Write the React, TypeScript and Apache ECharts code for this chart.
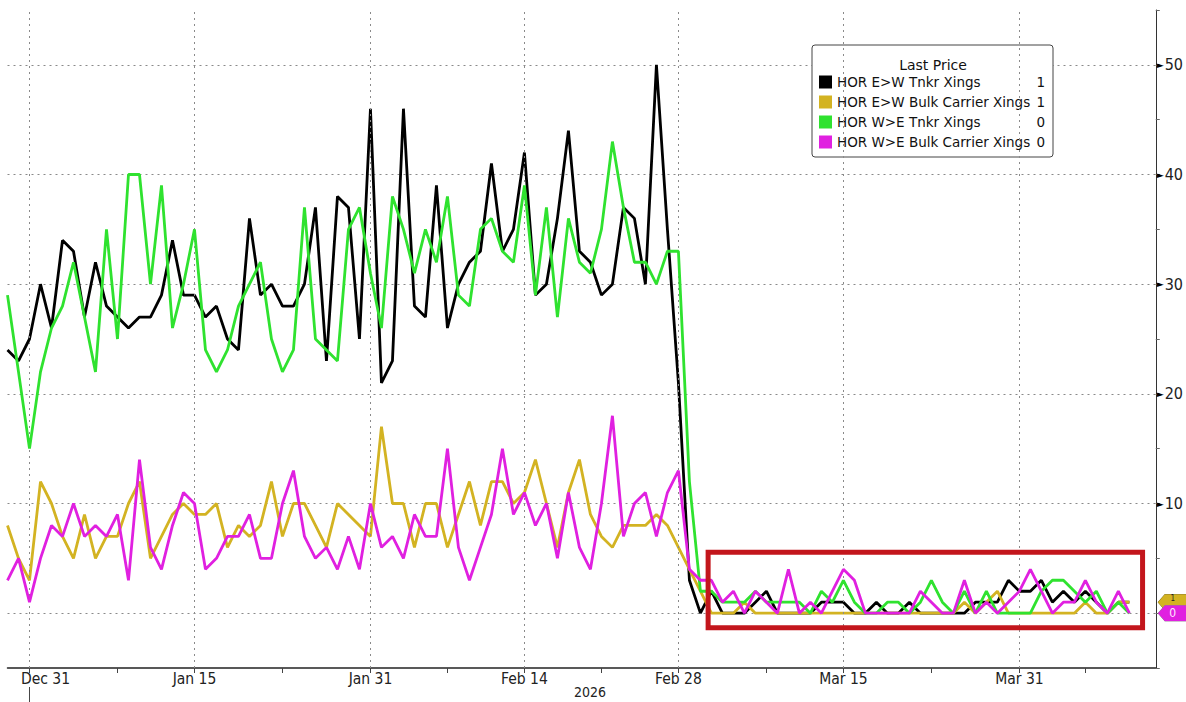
import React, { useEffect, useRef } from 'react';
import * as echarts from 'echarts';

// Daily observations starting 2025-12-29 (x = day offset from this date)
const START_DATE = '2025-12-29';
const SERIES_NAMES = [
  'HOR E>W Tnkr Xings',
  'HOR E>W Bulk Carrier Xings',
  'HOR W>E Tnkr Xings',
  'HOR W>E Bulk Carrier Xings',
];
const SERIES_COLORS = ['#000000', '#d3b322', '#2fe22f', '#e020e0'];

const EW_TNKR = [
  24, 23, 25, 30, 26, 34, 33, 27, 32, 28, 27, 26, 27, 27, 29, 34, 29, 29, 27, 28,
  25, 24, 36, 29, 30, 28, 28, 30, 37, 23, 38, 37, 25, 46, 21, 23, 46, 28, 27, 39,
  26, 30, 32, 33, 41, 33, 35, 42, 29, 30, 36, 44, 33, 32, 29, 30, 37, 36, 30, 50,
  35, 21, 3, 0, 2, 0, 0, 0, 1, 2, 0, 0, 0, 0, 1, 1, 1, 0, 0, 1,
  0, 0, 1, 0, 0, 0, 0, 0, 1, 1, 1, 3, 2, 2, 3, 1, 2, 1, 2, 1,
  0, 1, 1,
];
const EW_BULK = [
  8, 5, 3, 12, 10, 7, 5, 9, 5, 7, 7, 10, 12, 5, 7, 9, 10, 9, 9, 10,
  6, 8, 7, 8, 12, 7, 10, 10, 8, 6, 10, 9, 8, 7, 17, 10, 10, 6, 10, 10,
  6, 9, 12, 8, 12, 12, 10, 11, 14, 10, 6, 11, 14, 9, 7, 6, 8, 8, 8, 9,
  8, 6, 4, 2, 0, 0, 0, 1, 0, 0, 0, 0, 0, 0, 0, 0, 0, 0, 0, 0,
  0, 0, 0, 0, 0, 0, 0, 1, 0, 1, 2, 0, 0, 0, 0, 0, 0, 0, 1, 0,
  0, 1, 1,
];
const WE_TNKR = [
  29, 22, 15, 22, 26, 28, 32, 27, 22, 35, 25, 40, 40, 30, 39, 26, 30, 35, 24, 22,
  24, 28, 30, 32, 25, 22, 24, 37, 25, 24, 23, 35, 37, 31, 26, 38, 35, 31, 35, 32,
  38, 29, 28, 35, 36, 33, 32, 39, 29, 37, 27, 36, 32, 31, 35, 43, 37, 32, 32, 30,
  33, 33, 12, 2, 2, 1, 1, 1, 2, 1, 1, 1, 1, 0, 2, 1, 3, 1, 0, 0,
  1, 1, 0, 1, 3, 1, 0, 2, 0, 2, 0, 0, 0, 0, 2, 3, 3, 2, 1, 2,
  0, 1, 0,
];
const WE_BULK = [
  3, 5, 1, 5, 8, 7, 10, 7, 8, 7, 9, 3, 14, 6, 4, 8, 11, 10, 4, 5,
  7, 7, 9, 5, 5, 10, 13, 7, 5, 6, 4, 7, 4, 10, 6, 7, 5, 9, 7, 7,
  15, 6, 3, 6, 9, 15, 9, 11, 8, 10, 5, 11, 6, 4, 10, 18, 7, 10, 11, 7,
  11, 13, 4, 3, 3, 1, 2, 0, 2, 1, 0, 4, 0, 1, 0, 2, 4, 3, 0, 0,
  0, 0, 0, 2, 1, 0, 0, 3, 0, 1, 0, 1, 2, 4, 2, 0, 1, 1, 3, 1,
  0, 2, 0,
];
const SERIES_VALUES = [EW_TNKR, EW_BULK, WE_TNKR, WE_BULK];
const TAG_TEXT_COLORS = ['#ffffff', '#222222', '#111111', '#ffe8ff'];
// only the tags that stay uncovered in the stack show their number
const TAG_SHOWS_TEXT = [false, true, false, true];

const X_LABEL_DAYS = [2, 17, 33, 47, 61, 76, 92];
const X_LABELS = ['Dec 31', 'Jan 15', 'Jan 31', 'Feb 14', 'Feb 28', 'Mar 15', 'Mar 31'];
const X_MINOR_DAYS = [10, 25, 40, 54, 69, 84, 98];
const X_MAX_DAY = 104.4;
const Y_MIN = -5;
const Y_MAX = 55;
const YEAR_LABEL = '2026';
const YEAR_START_DAY = 2;
const HIGHLIGHT_BOX = { fromDay: 63.7, toDay: 103.2, low: -1.34, high: 5.55 };

const COND_FONT = '"DejaVu Sans Condensed", "Liberation Sans Narrow", "DejaVu Sans", sans-serif';
const LEGEND_FONT = '"DejaVu Sans", "Liberation Sans", sans-serif';

export default function App() {
  const ref = useRef<HTMLDivElement>(null);

  useEffect(() => {
    if (!ref.current) return;
    const chart = echarts.init(ref.current, undefined, { renderer: 'svg' });
    const labelMap: Record<number, string> = {};
    X_LABEL_DAYS.forEach((d, i) => (labelMap[d] = X_LABELS[i]));
    const lastValues = SERIES_VALUES.map((s) => s[s.length - 1]);

    const series: any[] = SERIES_NAMES.map((name, k) => ({
      name,
      type: 'line',
      data: SERIES_VALUES[k].map((v, i) => [i, v]),
      showSymbol: false,
      symbol: 'none',
      lineStyle: { width: 2.8, color: SERIES_COLORS[k] },
      itemStyle: { color: SERIES_COLORS[k] },
      z: 3 + k,
    }));
    series.unshift({
      name: 'grid',
      type: 'line',
      data: [],
      z: 1,
      silent: true,
      markLine: {
        silent: true,
        symbol: 'none',
        label: { show: false },
        lineStyle: { color: '#8a8a8a', width: 1, type: [2, 4] },
        data: X_LABEL_DAYS.map((d) => ({ xAxis: d })),
      },
    });

    chart.setOption({
      animation: false,
      backgroundColor: '#ffffff',
      grid: { left: 7.5, right: 30, top: 10, bottom: 34 },
      xAxis: {
        type: 'value',
        min: 0,
        max: X_MAX_DAY,
        axisLine: { show: true, onZero: false, lineStyle: { color: '#222', width: 1.5 } },
        axisTick: {
          show: true,
          length: 5,
          customValues: [...X_LABEL_DAYS, ...X_MINOR_DAYS].sort((a, b) => a - b),
          lineStyle: { color: '#444' },
        },
        axisLabel: {
          customValues: X_LABEL_DAYS,
          formatter: (v: number) => {
            const d = Math.round(v);
            const t = labelMap[d] || '';
            return d === X_LABEL_DAYS[0] ? `{first|${t}}` : t;
          },
          color: '#222',
          fontSize: 15.5,
          fontFamily: COND_FONT,
          margin: 3,
          rich: {
            first: { fontSize: 15.5, fontFamily: COND_FONT, color: '#222', padding: [0, 0, 0, 32] },
          },
        },
        splitLine: { show: false },
      },
      yAxis: {
        type: 'value',
        position: 'right',
        min: Y_MIN,
        max: Y_MAX,
        interval: 5,
        axisLine: { show: true, onZero: false, lineStyle: { color: '#333', width: 1 } },
        axisTick: { show: true, length: 4, lineStyle: { color: '#666' } },
        axisLabel: {
          margin: 1,
          // the 0 label sits under the last-value tags, as in the source chart
          formatter: (v: number) => (v > 0 && v % 10 === 0 ? `{t|►}{v|${v}}` : ''),
          rich: {
            t: { fontSize: 9, color: '#000', fontFamily: LEGEND_FONT },
            v: { fontSize: 16, color: '#222', fontFamily: COND_FONT, padding: [0, 0, 0, 1] },
          },
        },
        splitLine: {
          show: true,
          lineStyle: { color: ['rgba(0,0,0,0)', '#8a8a8a'], width: 1, type: [2, 4] },
        },
      },
      legend: {
        data: SERIES_NAMES,
        orient: 'vertical',
        left: 812,
        top: 45,
        padding: [30, 8, 8, 7],
        itemWidth: 13,
        itemHeight: 13,
        itemGap: 6,
        icon: 'rect',
        backgroundColor: '#ffffff',
        borderColor: '#444',
        borderWidth: 1,
        borderRadius: 3,
        selectedMode: false,
        textStyle: {
          fontFamily: LEGEND_FONT,
          fontSize: 13.5,
          color: '#111',
          rich: {
            n: { width: 194, fontSize: 13.5, fontFamily: LEGEND_FONT, color: '#111' },
            v: { width: 14, align: 'right', fontSize: 13.5, fontFamily: LEGEND_FONT, color: '#111' },
          },
        },
        formatter: (name: string) => `{n|${name}}{v|${lastValues[SERIES_NAMES.indexOf(name)]}}`,
      },
      series,
    });

    const xPix = (d: number) => chart.convertToPixel({ xAxisIndex: 0 }, d) as number;
    const yPix = (v: number) => chart.convertToPixel({ yAxisIndex: 0 }, v) as number;
    const axisX = xPix(X_MAX_DAY);
    const elements: any[] = [];

    // Legend title
    elements.push({
      type: 'text',
      x: 933,
      y: 65,
      z: 20,
      style: { text: 'Last Price', font: `14px ${LEGEND_FONT}`, fill: '#111', align: 'center', verticalAlign: 'middle' },
    });

    // Highlight box
    const bx0 = xPix(HIGHLIGHT_BOX.fromDay);
    const bx1 = xPix(HIGHLIGHT_BOX.toDay);
    const by0 = yPix(HIGHLIGHT_BOX.high);
    const by1 = yPix(HIGHLIGHT_BOX.low);
    elements.push({
      type: 'rect',
      z: 30,
      shape: { x: bx0, y: by0, width: bx1 - bx0, height: by1 - by0 },
      style: { fill: 'none', stroke: '#c3161c', lineWidth: 5 },
    });

    // Year marker
    const yx = xPix(YEAR_START_DAY);
    elements.push({
      type: 'line',
      z: 20,
      shape: { x1: yx, y1: 687, x2: yx, y2: 702 },
      style: { stroke: '#444', lineWidth: 1 },
    });
    elements.push({
      type: 'text',
      x: 590,
      y: 692,
      z: 20,
      style: { text: YEAR_LABEL, font: `14px ${COND_FONT}`, fill: '#222', align: 'center', verticalAlign: 'middle' },
    });

    // Last value tags on the right axis
    const tagOrder = [0, 2, 1, 3];
    tagOrder.forEach((k) => {
      const yc = yPix(lastValues[k]);
      const x0 = axisX + 2;
      elements.push({
        type: 'polygon',
        z: 40 + k,
        shape: {
          points: [
            [x0, yc],
            [x0 + 7, yc - 8],
            [1186, yc - 8],
            [1186, yc + 8],
            [x0 + 7, yc + 8],
          ],
        },
        style: { fill: SERIES_COLORS[k] },
      });
      if (TAG_SHOWS_TEXT[k]) {
        elements.push({
          type: 'text',
          z: 40 + k,
          x: x0 + 15,
          y: k === 1 ? yc - 4 : yc,
          style: {
            text: String(lastValues[k]),
            font: `${k === 1 ? 8 : 12}px ${COND_FONT}`,
            fill: TAG_TEXT_COLORS[k],
            align: 'center',
            verticalAlign: 'middle',
          },
        });
      }
    });

    chart.setOption({ graphic: { elements } });

    return () => chart.dispose();
  }, []);

  return (
    <div
      ref={ref}
      style={{ position: 'absolute', left: 0, top: 0, width: 1186, height: 702, background: '#fff' }}
    />
  );
}
